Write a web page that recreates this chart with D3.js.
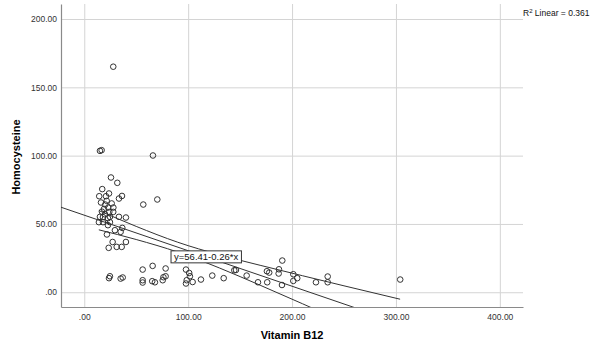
<!DOCTYPE html>
<html>
<head>
<meta charset="utf-8">
<script src="https://cdn.jsdelivr.net/npm/d3@7"></script>
<style>
  body { margin: 0; background: #fff; }
  svg { display: block; font-family: "Liberation Sans", Arial, sans-serif; }
  .grid line { stroke: #d4d4d4; stroke-width: 1; }
  .grid path { display: none; }
  .tick text { fill: #333; font-size: 8.5px; }
</style>
</head>
<body>
<div id="chart"></div>
<script>
// B12 / Homocysteine pairs
var vitaminB12 = [
  25.7, 31.8, 17.3, 14.4, 20.9, 23.8, 16.1, 21.6, 26.4, 20.2, 36.3, 33.4, 24.1, 27.9,
  24.7, 15.1, 18.0, 33.4, 40.1, 14.1, 18.0, 22.8, 24.7, 22.8, 29.5, 36.6, 35.0, 21.8,
  27.3, 31.2, 36.0, 40.1, 23.5, 56.8, 70.3, 27.9, 15.1, 16.7, 66.1, 19.0, 23.0, 28.0,
  17.0, 20.0,
  24.7, 23.8, 35.0, 37.0, 56.2, 56.2, 56.2, 65.8, 65.4, 68.0, 75.5, 78.3, 78.3, 76.2,
  97.9, 101.0, 98.6, 104.3, 97.9, 101.7, 112.3, 123.2, 134.2, 144.4, 146.0, 156.3,
  167.2, 175.8, 178.0, 176.1, 187.4, 190.6, 187.1, 190.3, 201.2, 201.2, 205.0, 223.0,
  234.3, 234.3, 304.1
];
var homocysteine = [
  84.0, 80.1, 75.5, 70.3, 70.3, 72.3, 65.7, 66.9, 65.0, 64.2, 70.5, 68.6, 58.8, 58.8,
  55.2, 55.2, 55.0, 55.2, 54.7, 51.3, 51.3, 54.2, 51.3, 49.1, 45.4, 47.1, 44.2, 42.3,
  36.8, 33.2, 33.2, 36.8, 32.5, 64.2, 67.9, 165.1, 103.5, 104.0, 100.1, 61.0, 62.0, 62.0,
  59.0, 57.0,
  11.7, 10.3, 10.0, 10.8, 16.6, 8.8, 7.1, 19.3, 8.1, 7.3, 8.8, 17.4, 11.7, 11.0,
  16.6, 14.1, 8.8, 7.5, 6.4, 11.7, 9.3, 12.2, 10.3, 16.1, 16.3, 12.2,
  7.3, 15.4, 14.4, 7.3, 16.8, 23.2, 13.7, 5.3, 13.2, 8.3, 10.3, 7.3,
  11.5, 7.3, 9.3
];

// fit line from the label, and the 95% mean interval
var intercept = 56.41;
var slope = -0.26;
var rSquared = 0.361;
var ciX = [14, 50, 90, 130, 170, 210, 250, 304];
var ciUpper = [59.8, 48.2, 36.6, 27.4, 19.6, 12.1, 4.7, -5.1];
var ciLower = [45.7, 38.6, 29.4, 17.8, 4.9, -8.4, -21.9, -40.1];

var xTicks = [0, 100, 200, 300, 400];
var yTicks = [0, 50, 100, 150, 200];

var width = 592, height = 345;
var margin = {top: 4, right: 69, bottom: 38, left: 61};
var w = width - margin.left - margin.right;
var h = height - margin.top - margin.bottom;

var svg = d3.select('#chart').append('svg')
  .attr('width', width)
  .attr('height', height);

var g = svg.append('g')
  .attr('transform', 'translate(' + margin.left + ',' + margin.top + ')');

var x = d3.scaleLinear().domain([-22.4, 422.3]).range([0, w]);
var y = d3.scaleLinear().domain([-10.8, 211]).range([h, 0]);

var fmt = function(d) { return d === 0 ? '.00' : d3.format('.2f')(d); };

// grid lines
g.append('g')
  .attr('class', 'grid')
  .attr('transform', 'translate(0,' + h + ')')
  .call(d3.axisBottom(x).tickValues(xTicks).tickSize(-h).tickFormat(''));
g.append('g')
  .attr('class', 'grid')
  .call(d3.axisLeft(y).tickValues(yTicks).tickSize(-w).tickFormat(''));

// axes
var xAxis = g.append('g')
  .attr('transform', 'translate(0,' + h + ')')
  .call(d3.axisBottom(x).tickValues(xTicks).tickSize(0).tickPadding(7).tickFormat(fmt));
var yAxis = g.append('g')
  .call(d3.axisLeft(y).tickValues(yTicks).tickSize(0).tickPadding(4).tickFormat(fmt));
[xAxis, yAxis].forEach(function(a) {
  a.select('.domain').attr('stroke', '#8a8a8a').attr('stroke-width', 1.2);
  a.selectAll('text').attr('font-family', '"Liberation Sans", Arial, sans-serif');
});

// fit + interval lines, clipped to the plot
g.append('clipPath').attr('id', 'clip')
  .append('rect').attr('width', w).attr('height', h);
var lines = g.append('g').attr('clip-path', 'url(#clip)');

var fitLine = d3.line()
  .x(function(d) { return x(d); })
  .y(function(d) { return y(intercept + slope * d); });
lines.append('path')
  .datum(x.domain())
  .attr('d', fitLine)
  .attr('fill', 'none')
  .attr('stroke', '#333')
  .attr('stroke-width', 1);

var ciLine = function(vals) {
  return d3.line()
    .curve(d3.curveMonotoneX)
    .x(function(d, i) { return x(ciX[i]); })
    .y(function(d) { return y(d); })(vals);
};
[ciUpper, ciLower].forEach(function(vals) {
  lines.append('path')
    .attr('d', ciLine(vals))
    .attr('fill', 'none')
    .attr('stroke', '#333')
    .attr('stroke-width', 1);
});

// points
g.append('g').selectAll('circle')
  .data(vitaminB12)
  .enter()
  .append('circle')
  .attr('cx', function(d) { return x(d); })
  .attr('cy', function(d, i) { return y(homocysteine[i]); })
  .attr('r', 2.8)
  .attr('fill', 'none')
  .attr('stroke', '#333')
  .attr('stroke-width', 1);

// equation label
var labelX = 83.5, labelY = 30.3;
var label = g.append('g')
  .attr('transform', 'translate(' + x(labelX) + ',' + y(labelY) + ')');
var labelText = label.append('text')
  .attr('x', 3)
  .attr('y', 9)
  .attr('font-size', '9.5px')
  .attr('fill', '#111')
  .text('y=' + intercept.toFixed(2) + '-' + Math.abs(slope).toFixed(2) + '*x');
var bb = labelText.node().getBBox();
label.insert('rect', 'text')
  .attr('width', bb.width + 6)
  .attr('height', 12)
  .attr('fill', '#fff')
  .attr('stroke', '#333')
  .attr('stroke-width', 1);

// titles
svg.append('text')
  .attr('x', margin.left + x(200))
  .attr('y', 339)
  .attr('text-anchor', 'middle')
  .attr('font-size', '11px')
  .attr('font-weight', 'bold')
  .text('Vitamin B12');
svg.append('text')
  .attr('transform', 'translate(20,157) rotate(-90)')
  .attr('text-anchor', 'middle')
  .attr('font-size', '11px')
  .attr('font-weight', 'bold')
  .text('Homocysteine');

var r2 = svg.append('text')
  .attr('x', 523)
  .attr('y', 16)
  .attr('font-size', '8.5px')
  .attr('fill', '#111');
r2.append('tspan').text('R');
r2.append('tspan').attr('dy', -3.5).attr('font-size', '6px').text('2');
r2.append('tspan').attr('dy', 3.5).text(' Linear = ' + rSquared.toFixed(3));
</script>
</body>
</html>
